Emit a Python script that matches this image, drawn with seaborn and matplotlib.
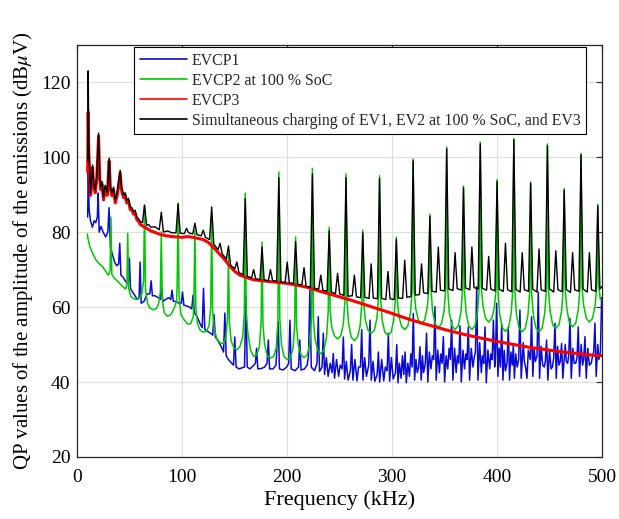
import matplotlib
matplotlib.use("Agg")
import matplotlib.pyplot as plt
import pandas as pd
import seaborn as sns

# ---------------- data ----------------
x_ticks = [0, 100, 200, 300, 400, 500]
y_ticks = [20, 40, 60, 80, 100, 120]

labels = ["EVCP1", "EVCP2 at 100 % SoC", "EVCP3",
          "Simultaneous charging of EV1, EV2 at 100 % SoC, and EV3"]

# EVCP1 (blue): frequency kHz, QP dBuV
evcp1 = [(9.8, 84), (10.4, 96.5), (11.2, 86), (12.5, 83), (14.3, 81.3), (16.0, 83.0), (17.5, 82.5),
         (19.0, 84.0), (19.8, 90.4), (20.8, 80.0), (22.5, 81.5), (24.5, 80.0), (27.0, 78.7), (29.0, 80.0),
         (30.2, 86.5), (31.5, 76.0), (33.5, 74.0), (35.5, 72.0), (37.5, 71.0), (39.3, 71.5), (40.4, 77.0),
         (41.5, 68.5), (43.5, 68.0), (45.5, 67.0), (47.5, 66.4), (48.8, 67.0), (49.6, 73.0), (50.6, 65.0),
         (52.5, 64.0), (55.0, 63.0), (57.0, 62.0), (58.8, 62.5), (59.8, 72.0), (60.8, 61.0), (63.5, 61.5),
         (66.5, 63.5), (69.0, 63.5), (70.3, 67.0), (71.5, 63.0), (74.0, 63.0), (77.0, 62.5), (79.0, 62.0),
         (80.2, 65.0), (81.5, 61.5), (84.0, 62.0), (87.0, 62.5), (89.0, 62.0), (90.2, 64.5), (91.5, 61.5),
         (94.0, 61.5), (97.0, 61.0), (99.0, 61.0), (100.2, 64.0), (101.5, 60.5), (104.0, 60.3), (107.0, 60.0),
         (109.0, 59.5), (110.3, 63.2), (111.5, 58.5), (114.0, 57.5), (117.0, 55.5), (119.0, 54.5),
         (120.2, 65.0), (121.5, 54.0), (124.0, 53.5), (127.0, 53.0), (129.0, 52.5), (130.2, 58.0),
         (131.5, 52.0), (134.0, 51.0), (137.0, 49.5), (139.3, 48.0), (140.6, 58.4), (141.8, 47.0),
         (144.0, 46.0), (147.0, 45.0), (148.8, 44.5), (150.0, 52.0), (151.3, 44.0), (154.0, 43.5),
         (157.0, 43.8), (159.3, 44.0), (160.6, 63.0), (161.9, 44.0), (164.5, 43.5), (167.5, 44.3),
         (169.7, 45.0), (170.8, 49.0), (172.0, 43.5), (175.5, 43.6), (178.5, 44.0), (180.8, 45.0),
         (182.0, 51.2), (183.2, 43.5), (186.5, 43.5), (189.3, 44.5), (191.4, 56.1), (192.6, 43.5),
         (196.0, 43.2), (199.5, 44.0), (201.4, 45.0), (202.6, 56.5), (203.8, 43.5), (207.5, 43.0),
         (210.8, 44.0), (212.0, 51.2), (213.2, 43.2), (216.5, 43.5), (219.0, 44.5), (220.3, 47.0),
         (221.6, 64.5), (222.9, 44.0), (226.0, 43.0), (228.4, 45.0), (229.6, 57.4), (230.8, 42.8),
         (233.2, 44.0), (234.4, 53.0), (235.6, 42.0), (239.0, 41.5), (242.7, 42.5), (243.9, 47.6),
         (245.1, 41.0), (249.0, 41.5), (252.3, 43.5), (253.5, 52.0), (254.7, 40.8), (258.0, 40.5),
         (260.2, 43.0), (261.4, 50.0), (262.6, 40.5), (266.5, 40.3), (269.8, 44.0), (271.0, 54.0),
         (272.2, 40.5), (275.5, 41.5), (277.7, 44.5), (278.9, 56.5), (280.1, 40.5), (283.5, 40.2),
         (285.7, 42.0), (286.9, 48.0), (288.1, 40.0), (292.0, 40.3), (295.2, 43.0), (296.4, 53.0),
         (297.6, 40.2), (301.0, 40.8), (303.2, 42.5), (304.4, 50.0), (305.6, 39.8), (308.5, 41.0),
         (311.1, 42.0), (312.3, 48.0), (313.5, 39.8), (316.5, 41.5), (319.0, 44.0), (320.2, 58.3),
         (321.4, 40.5), (324.0, 42.5), (325.3, 44.0), (326.5, 49.4), (327.7, 40.5), (330.0, 42.5),
         (331.6, 45.0), (332.8, 53.0), (334.0, 40.0), (337.0, 43.5), (339.6, 46.0), (340.8, 60.1),
         (342.0, 40.5), (345.0, 42.5), (347.6, 45.0), (348.8, 52.1), (350.0, 40.0), (353.0, 43.5),
         (355.5, 46.0), (356.7, 56.5), (357.9, 40.5), (361.0, 42.5), (363.5, 45.0), (364.7, 55.0),
         (365.9, 40.0), (369.0, 43.5), (371.4, 46.0), (372.6, 54.7), (373.8, 40.5), (377.0, 44.0),
         (379.4, 48.0), (380.6, 65.4), (381.8, 40.5), (385.0, 42.5), (387.3, 45.0), (388.5, 54.7),
         (389.7, 39.8), (393.0, 43.5), (395.3, 46.0), (396.5, 56.5), (397.7, 44.0), (398.4, 46.0),
         (399.6, 61.0), (400.8, 41.5), (403.2, 44.0), (404.4, 55.5), (405.6, 40.5), (408.0, 43.0),
         (409.5, 45.0), (410.7, 54.7), (411.9, 40.5), (414.5, 44.5), (416.5, 41.0), (420.6, 46.0),
         (421.8, 59.2), (423.0, 41.0), (426.0, 45.5), (428.5, 41.0), (431.7, 46.0), (432.9, 57.4),
         (434.1, 41.5), (436.5, 45.5), (438.1, 47.0), (439.3, 64.0), (440.5, 41.0), (443.5, 44.5),
         (446.0, 45.5), (447.2, 51.2), (448.4, 40.5), (451.5, 43.5), (454.0, 46.5), (455.2, 55.7),
         (456.4, 41.0), (459.0, 44.5), (460.3, 45.5), (461.5, 50.3), (462.7, 41.0), (466.0, 45.5),
         (468.3, 47.0), (469.5, 57.0), (470.7, 41.0), (473.5, 45.0), (476.2, 46.5), (477.4, 54.7),
         (478.6, 41.5), (481.5, 44.5), (482.6, 46.0), (483.8, 52.1), (485.0, 41.0), (488.0, 44.5),
         (491.0, 47.0), (492.1, 48.0), (493.3, 55.7), (494.5, 41.5), (497.0, 46.0), (498.5, 48.0),
         (499.7, 62.5), (500.0, 58.0)]
# EVCP1: smaller ripples between its peaks
evcp1_ripple = [(237.3, 46.5), (241.0, 45.0), (247.0, 46.0), (250.5, 44.5), (256.3, 45.5), (264.5, 46.0),
                (268.0, 44.0), (273.8, 46.5), (281.8, 45.5), (290.0, 46.0), (293.5, 44.0), (299.3, 46.5),
                (306.9, 45.0), (309.8, 47.0), (315.0, 45.0), (317.8, 47.5), (322.7, 46.0), (328.9, 47.0),
                (335.5, 48.0), (338.3, 47.0), (343.5, 48.5), (346.3, 47.5), (351.5, 47.0), (354.3, 49.0),
                (359.5, 49.0), (362.2, 47.0), (367.5, 48.5), (370.2, 47.5), (375.4, 49.0), (378.2, 46.5),
                (383.4, 50.5), (386.1, 47.0), (391.3, 48.5), (394.1, 47.5), (402.0, 49.0), (406.8, 48.5),
                (413.2, 48.0), (415.5, 50.0), (417.8, 47.5), (419.2, 44.0), (425.0, 50.5), (427.2, 44.0),
                (429.8, 48.5), (435.3, 49.0), (442.0, 49.5), (445.0, 44.0), (450.0, 48.5), (452.8, 44.0),
                (457.7, 49.5), (465.0, 50.0), (467.3, 45.0), (472.2, 49.0), (475.0, 45.0), (480.2, 50.0),
                (486.5, 49.0), (489.8, 45.0), (496.0, 50.0)]

# EVCP2 at 100 % SoC (green)
evcp2 = [(9.5, 79.5), (10.0, 78.4), (12.0, 76.0), (14.5, 74.4), (17.6, 72.6), (21.0, 71.5), (24.0, 70.8),
         (27.0, 69.5), (29.5, 68.5), (31.2, 69.8), (32.0, 84.0), (32.8, 68.8), (35.0, 67.7), (38.0, 67.0),
         (40.0, 66.4), (43.0, 65.5), (46.0, 64.8), (47.2, 66.0), (48.0, 79.7), (48.8, 65.0), (51.0, 62.8),
         (54.0, 62.2), (56.0, 62.0), (59.0, 62.3), (61.5, 63.5), (63.1, 67.0), (64.0, 87.2), (64.9, 65.0),
         (66.8, 61.0), (69.0, 59.8), (72.0, 59.3), (75.0, 59.5), (77.5, 61.0), (79.1, 64.0), (80.0, 80.0),
         (80.9, 62.0), (82.7, 58.5), (86.0, 57.5), (89.0, 58.0), (92.0, 59.5), (94.5, 61.5), (95.1, 66.0),
         (96.0, 87.7), (96.9, 63.0), (98.6, 58.0), (102.0, 56.5), (105.0, 55.5), (108.0, 55.5), (110.5, 57.5),
         (111.1, 62.0), (112.0, 80.5), (112.9, 60.0), (114.5, 55.5), (117.0, 53.8), (120.0, 53.3),
         (123.0, 53.5), (125.5, 55.0), (127.1, 60.0), (128.0, 84.0), (128.9, 59.0), (130.5, 54.0),
         (133.0, 51.5), (136.0, 50.4), (139.0, 50.3), (141.5, 52.0), (143.1, 57.0), (144.0, 74.0),
         (144.9, 56.0), (146.5, 51.0), (149.0, 49.2), (152.0, 48.6), (155.0, 49.5), (157.5, 52.0),
         (159.1, 58.0), (160.0, 90.4), (160.9, 59.0), (162.5, 53.0), (165.0, 48.5), (168.0, 46.8),
         (171.0, 47.3), (173.5, 49.5), (175.1, 56.0), (176.0, 77.3), (176.9, 55.0), (178.5, 50.0),
         (181.0, 47.0), (184.0, 46.4), (187.0, 46.8), (189.5, 49.0), (191.1, 56.0), (192.0, 96.0),
         (192.9, 57.0), (194.5, 50.0), (197.0, 46.8), (200.0, 46.0), (203.0, 46.5), (205.5, 49.0),
         (207.1, 55.0), (208.0, 78.7), (208.9, 55.0), (210.5, 50.0), (213.0, 47.3), (216.0, 46.5),
         (219.0, 47.2), (221.5, 50.0), (223.1, 57.0), (224.0, 97.0), (224.9, 57.0), (226.5, 51.5),
         (229.0, 48.5), (232.0, 47.5), (235.0, 48.5), (237.5, 52.0), (239.1, 59.0), (240.0, 81.3),
         (240.9, 59.0), (242.5, 54.5), (245.0, 52.3), (248.0, 51.5), (251.0, 52.3), (253.5, 55.5),
         (255.1, 62.0), (256.0, 95.5), (256.9, 62.0), (258.5, 55.5), (261.0, 52.0), (264.0, 51.0),
         (267.0, 52.0), (269.5, 55.0), (271.1, 61.0), (272.0, 80.5), (272.9, 61.0), (274.5, 56.5),
         (277.0, 53.8), (280.0, 53.0), (283.0, 53.8), (285.5, 57.0), (287.1, 63.0), (288.0, 95.0),
         (288.9, 63.0), (290.5, 56.5), (293.0, 53.3), (296.0, 52.5), (299.0, 53.3), (301.5, 56.5),
         (303.1, 62.0), (304.0, 78.7), (304.9, 62.0), (306.5, 57.5), (309.0, 54.8), (312.0, 54.0),
         (315.0, 55.0), (317.5, 58.5), (319.1, 64.5), (320.0, 99.5), (320.9, 64.5), (322.5, 59.5),
         (325.0, 56.5), (328.0, 55.5), (331.0, 56.5), (333.5, 60.0), (335.1, 65.5), (336.0, 84.8),
         (336.9, 65.5), (338.5, 59.0), (341.0, 55.5), (344.0, 54.5), (347.0, 55.5), (349.5, 59.0),
         (351.1, 65.0), (352.0, 102.7), (352.9, 65.0), (354.5, 58.5), (357.0, 55.0), (360.0, 54.0),
         (363.0, 55.0), (365.5, 58.5), (367.1, 64.5), (368.0, 92.3), (368.9, 64.5), (370.5, 58.5),
         (373.0, 55.0), (376.0, 54.0), (379.0, 55.0), (381.5, 59.0), (383.1, 65.5), (384.0, 104.0),
         (384.9, 65.5), (386.5, 60.5), (389.0, 57.0), (392.0, 56.0), (395.0, 57.0), (397.5, 60.0),
         (399.1, 65.0), (400.0, 94.0), (400.9, 64.5), (402.5, 58.0), (405.0, 54.5), (408.0, 53.5),
         (411.0, 54.5), (413.5, 58.5), (415.1, 65.0), (416.0, 105.0), (416.9, 64.5), (418.5, 58.0),
         (421.0, 54.4), (424.0, 53.4), (427.0, 54.4), (429.5, 58.0), (431.1, 64.0), (432.0, 93.4),
         (432.9, 64.0), (434.5, 58.0), (437.0, 54.4), (440.0, 53.4), (443.0, 54.4), (445.5, 58.5),
         (447.1, 65.0), (448.0, 103.5), (448.9, 65.0), (450.5, 59.0), (453.0, 55.3), (456.0, 54.3),
         (459.0, 55.3), (461.5, 59.0), (463.1, 65.0), (464.0, 91.6), (464.9, 65.0), (466.5, 59.5),
         (469.0, 55.7), (472.0, 54.7), (475.0, 55.7), (477.5, 59.5), (479.1, 65.5), (480.0, 101.0),
         (480.9, 65.5), (482.5, 60.5), (485.0, 57.0), (488.0, 56.0), (491.0, 57.0), (493.5, 60.5),
         (495.1, 66.0), (496.0, 87.4), (496.9, 65.5), (498.5, 62.0), (500.0, 62.0)]

# EVCP3 (red)
evcp3 = [(9.8, 96), (10.3, 112), (10.9, 101), (11.3, 98.5), (12.6, 89.8), (13.5, 93.3), (14.5, 97.2),
         (15.5, 92.3), (17.0, 90.5), (18.5, 94.3), (20.2, 105.6), (21.3, 94.3), (22.4, 91.3), (23.5, 92.8),
         (24.9, 88.6), (26.5, 91.8), (28.5, 89.8), (30.3, 99.0), (31.5, 91.3), (32.9, 89.7), (34.5, 91.3),
         (36.1, 87.8), (38.0, 89.8), (40.8, 95.8), (42.0, 91.3), (44.0, 89.2), (45.5, 89.8), (47.0, 87.8),
         (48.7, 88.2), (50.4, 86.0), (52.0, 85.8), (53.5, 84.8), (55.0, 85.0), (56.7, 83.3), (58.5, 82.8),
         (60.0, 82.0), (63.0, 81.5), (66.0, 81.0), (70.0, 80.3), (75.0, 79.8), (80.0, 79.3), (85.0, 79.0),
         (90.0, 78.8), (95.0, 78.7), (100.0, 78.6), (105.0, 78.8), (110.0, 78.6), (115.0, 78.3),
         (120.0, 78.0), (125.0, 77.2), (130.0, 75.8), (135.0, 74.3), (140.0, 72.8), (145.0, 71.0),
         (150.0, 69.5), (155.0, 68.5), (160.0, 68.0), (165.0, 67.5), (170.0, 67.2), (180.0, 66.9),
         (190.0, 66.6), (200.0, 66.3), (210.0, 65.8), (220.0, 65.2), (230.0, 64.3), (240.0, 63.5),
         (250.0, 62.7), (260.0, 61.9), (270.0, 61.0), (280.0, 60.1), (290.0, 59.2), (300.0, 58.3),
         (310.0, 57.3), (320.0, 56.4), (330.0, 55.6), (340.0, 54.8), (350.0, 54.0), (360.0, 53.3),
         (370.0, 52.6), (380.0, 52.0), (390.0, 51.4), (400.0, 50.8), (410.0, 50.3), (420.0, 49.8),
         (430.0, 49.3), (440.0, 48.9), (450.0, 48.5), (460.0, 48.1), (470.0, 47.8), (480.0, 47.5),
         (490.0, 47.2), (500.0, 47.0)]

# Simultaneous charging (black): low-frequency part, floor, and spikes
simul_low = [(9.8, 99), (10.3, 123), (10.9, 104), (11.3, 99.2), (12.6, 90.4), (13.5, 94), (14.5, 97.9),
             (15.5, 93), (17.0, 91.2), (18.5, 95), (20.2, 106.4), (21.3, 95), (22.4, 92), (23.5, 93.5),
             (24.9, 89.3), (26.5, 92.5), (28.5, 90.5), (30.3, 99.7), (31.5, 92), (32.9, 90.4), (34.5, 92),
             (36.1, 88.5), (38.0, 90.5), (40.8, 96.5), (42.0, 92), (44.0, 89.9), (45.5, 90.5), (47.0, 88.5),
             (48.7, 89), (50.4, 86.7), (52.0, 86.5), (53.5, 85.5), (55.0, 85.8), (56.7, 84), (58.5, 83.5),
             (60.0, 82.8), (62.0, 82.5), (66.0, 81.8), (68.0, 82), (70.0, 81.3), (74.0, 81.4), (78.0, 80.6),
             (82.0, 80), (86.0, 80.3), (90.0, 79.8), (94.0, 79.8)]
simul_floor = [(98, 79.7), (102, 79.6), (106, 79.8), (110, 79.5), (114, 79.3), (118, 79.0), (122, 78.6),
               (126, 78.0), (130, 76.8), (134, 75.3), (138, 74.2), (142, 72.8), (146, 71.2), (150, 70.2),
               (154, 69.2), (158, 68.6), (162, 68.2), (166, 67.8), (170, 67.5), (174, 67.3), (178, 67.2),
               (182, 67.0), (186, 67.1), (190, 66.8), (194, 66.7), (198, 66.5), (202, 66.4), (206, 66.3),
               (210, 66.0), (214, 66.0), (218, 65.5), (222, 65.3), (226, 65.0), (230, 64.8), (234, 64.5),
               (238, 64.2), (242, 64.0), (246, 63.6), (250, 63.5), (254, 63.1), (258, 62.9), (262, 63.0),
               (266, 62.7), (270, 62.5), (274, 62.6), (278, 62.3), (282, 62.4), (286, 62.2), (290, 62.3),
               (294, 62.0), (298, 62.2), (302, 62.0), (306, 62.4), (310, 62.3), (314, 62.6), (318, 62.8),
               (322, 63.2), (326, 63.3), (330, 63.8), (334, 63.6), (338, 64.2), (342, 64.0), (346, 64.5),
               (350, 64.3), (354, 64.8), (358, 64.4), (362, 64.9), (366, 64.5), (370, 65.1), (374, 64.6),
               (378, 65.2), (382, 64.8), (386, 65.0), (390, 64.5), (394, 64.8), (398, 64.3), (402, 64.7),
               (406, 64.2), (410, 64.6), (414, 64.1), (418, 64.7), (422, 64.0), (426, 64.6), (430, 64.2),
               (434, 64.8), (438, 64.0), (442, 64.6), (446, 64.2), (450, 64.8), (454, 64.0), (458, 64.6),
               (462, 64.1), (466, 64.7), (470, 63.9), (474, 64.6), (478, 64.2), (482, 64.8), (486, 64.0),
               (490, 64.6), (494, 64.2), (498, 64.8), (500, 65.5)]
simul_spikes = [(64, 87.2), (80, 85.3), (96, 87.5), (104, 81.0), (112, 82.4), (120, 80.5), (128, 86.7),
                (136, 77.0), (144, 76.3), (152, 72.0), (160, 89.0), (168, 70.0), (176, 76.0), (184, 70.0),
                (192, 94.5), (200, 72.0), (208, 77.5), (216, 70.5), (224, 95.5), (232, 68.5), (240, 80.3),
                (248, 69.0), (256, 94.5), (264, 68.5), (272, 79.8), (280, 71.5), (288, 94.3), (296, 69.5),
                (304, 78.0), (312, 72.5), (320, 99.0), (328, 71.5), (336, 84.2), (344, 76.0), (352, 102.2),
                (360, 74.5), (368, 91.8), (376, 76.0), (384, 103.5), (392, 73.5), (400, 93.5), (408, 77.0),
                (416, 104.6), (424, 74.5), (432, 93.0), (440, 75.5), (448, 103.0), (456, 75.0), (464, 91.2),
                (472, 74.5), (480, 100.6), (488, 74.5), (496, 87.0)]

colors = ["#0a0ad2", "#00c800", "#ff0000", "#000000"]
widths = [1.1, 1.1, 2.2, 1.0]

# ---------------- figure ----------------
sns.set_theme(style="white")
plt.rcParams["font.family"] = ["Liberation Serif", "DejaVu Serif"]
plt.rcParams["mathtext.fontset"] = "stix"

fig = plt.figure(figsize=(6.19, 5.19), dpi=100)
ax = fig.add_axes([0.125, 0.1195, 0.8475, 0.7945])

series = [evcp1 + evcp1_ripple, evcp2, evcp3, simul_low + simul_floor + simul_spikes]
for pts, lab, col, lw in zip(series, labels, colors, widths):
    df = pd.DataFrame(pts, columns=["freq", "qp"]).sort_values("freq")
    sns.lineplot(data=df, x="freq", y="qp", ax=ax, color=col, linewidth=lw,
                 label=lab, estimator=None, sort=True)

ax.set_xlim(0, 500)
ax.set_ylim(20, 130)
ax.set_xticks(x_ticks)
ax.set_yticks(y_ticks)
ax.grid(True, color="#dedede", linewidth=0.8)
ax.set_axisbelow(True)
for s in ax.spines.values():
    s.set_color("#262626")
    s.set_linewidth(0.9)
ax.tick_params(direction="in", top=True, right=True, length=4, width=0.8,
               labelsize=14, colors="#262626")
ax.tick_params(axis="x", pad=9)
ax.tick_params(axis="y", pad=5)
for t in ax.get_xticklabels() + ax.get_yticklabels():
    t.set_color("black")

ax.set_xlabel("Frequency (kHz)", fontsize=16, color="black", labelpad=3)
ax.set_ylabel("QP values of the amplitude of the emissions (dB$\\mu$V)", fontsize=15,
              color="black", labelpad=4)

leg = ax.legend(loc="upper left", bbox_to_anchor=(0.108, 0.994), fontsize=11.4,
                frameon=True, fancybox=False, edgecolor="black", framealpha=1,
                borderaxespad=0, handlelength=3.0, handletextpad=0.3,
                labelspacing=0.25, borderpad=0.35)
leg.get_frame().set_linewidth(0.8)
for h in leg.get_lines():
    h.set_linewidth(1.2)

fig.savefig("out.png", dpi=100)
